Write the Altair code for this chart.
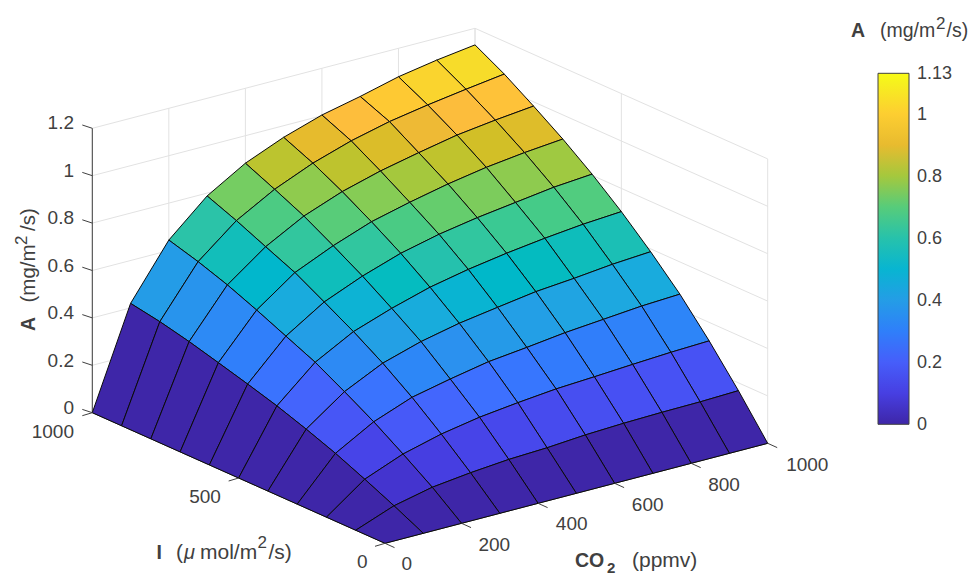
import altair as alt
import pandas as pd

# ---- values ----
I_GRID = [0, 100, 200, 300, 400, 500, 600, 700, 800, 900, 1000]
CO2_GRID = [0, 100, 200, 300, 400, 500, 600, 700, 800, 900, 1000]
A_I0 = [0, 0, 0, 0, 0, 0, 0, 0, 0, 0, 0]
A_I100 = [0, .061, .097, .116, .130, .137, .149, .156, .160, .162, .167]
A_I200 = [0, .118, .182, .224, .253, .272, .288, .297, .307, .316, .322]
A_I300 = [0, .172, .263, .324, .359, .390, .408, .428, .442, .456, .464]
A_I400 = [0, .219, .335, .413, .462, .497, .522, .546, .560, .577, .588]
A_I500 = [0, .262, .404, .491, .547, .594, .627, .653, .674, .691, .702]
A_I600 = [0, .299, .459, .561, .628, .682, .720, .748, .770, .792, .805]
A_I700 = [0, .334, .514, .630, .701, .760, .800, .835, .863, .883, .898]
A_I800 = [0, .368, .565, .684, .771, .832, .877, .912, .944, .965, .982]
A_I900 = [0, .397, .608, .739, .829, .897, .949, .988, 1.016, 1.040, 1.062]
A_I1000 = [0, .419, .644, .788, .884, .951, 1.003, 1.039, 1.080, 1.108, 1.13]
A_ROWS = [A_I0, A_I100, A_I200, A_I300, A_I400, A_I500, A_I600, A_I700, A_I800, A_I900, A_I1000]

Z_TICKS = [0, 0.2, 0.4, 0.6, 0.8, 1, 1.2]
I_TICKS = [0, 500, 1000]
CO2_TICKS = [0, 200, 400, 600, 800, 1000]
CBAR_TICKS = [0, 0.2, 0.4, 0.6, 0.8, 1, 1.13]
A_MAX = 1.13

PARULA = ["#3e26a8", "#4029b4", "#422ebf", "#4332cb", "#4537d5", "#463cde", "#4741e5", "#4747eb",
          "#474df0", "#4752f4", "#4758f8", "#465dfa", "#4563fc", "#4269fe", "#3e6fff", "#3875fe",
          "#327bfc", "#2f81f9", "#2d87f7", "#2d8cf3", "#2b91ef", "#2796eb", "#259be7", "#23a0e5",
          "#20a5e2", "#1ca9df", "#18addb", "#12b1d6", "#08b5d0", "#01b8ca", "#02bac3", "#0bbdbd",
          "#19bfb6", "#24c1ae", "#2cc3a7", "#31c69f", "#37c897", "#3fca8e", "#4acb84", "#57cc7a",
          "#63cd6f", "#72cd64", "#80cc59", "#8fcb4e", "#9dc943", "#abc739", "#b9c431", "#c5c22a",
          "#d1bf27", "#dcbd29", "#e6bb2d", "#efba36", "#f8ba3d", "#febe3c", "#fec338", "#fec933",
          "#fccf30", "#f9d62d", "#f7dc2a", "#f5e327", "#f5e924", "#f6ef20", "#f7f51b", "#f9fb15"]

# ---- oblique view of the box: pixel position of a (I, CO2, A) point ----
X0, Y0 = 385.0, 543.3
DX_I, DY_I = -0.2927, -0.1306
DX_C, DY_C = 0.3827, -0.1000
DY_A = -237.0


def px(i, c):
    return X0 + DX_I * i + DX_C * c


def py(i, c, a=0.0):
    return Y0 + DY_I * i + DY_C * c + DY_A * a


# ---- surface cells, back to front ----
cells = []
for r in range(len(I_GRID) - 2, -1, -1):
    for k in range(len(CO2_GRID) - 2, -1, -1):
        corners = [(r, k), (r, k + 1), (r + 1, k + 1), (r + 1, k), (r, k)]
        cid = f"c{(9 - r):02d}_{(9 - k):02d}"
        for o, (a, b) in enumerate(corners):
            cells.append({"cell": cid, "o": o, "A": A_ROWS[r][k],
                          "x": px(I_GRID[a], CO2_GRID[b]),
                          "y": py(I_GRID[a], CO2_GRID[b], A_ROWS[a][b])})
cells = pd.DataFrame(cells)


# ---- walls, axes, ticks ----
def seg(i1, c1, a1, i2, c2, a2):
    return {"x": px(i1, c1), "y": py(i1, c1, a1), "x2": px(i2, c2), "y2": py(i2, c2, a2)}


grid = []
for z in Z_TICKS:
    grid.append(seg(1000, 0, z, 1000, 1000, z))
    grid.append(seg(1000, 1000, z, 0, 1000, z))
for c in CO2_TICKS:
    grid.append(seg(1000, c, 0, 1000, c, 1.2))
for i in I_TICKS:
    grid.append(seg(i, 1000, 0, i, 1000, 1.2))
grid = pd.DataFrame(grid)

axes = [seg(1000, 0, 0, 1000, 0, 1.2), seg(1000, 0, 0, 0, 0, 0), seg(0, 0, 0, 0, 1000, 0)]
axes = pd.DataFrame(axes)

ticks = []
for z in Z_TICKS:
    x, y = px(1000, 0), py(1000, 0, z)
    ticks.append({"x": x, "y": y, "x2": x - 10, "y2": y - 3.3})
for i in I_TICKS:
    x, y = px(i, 0), py(i, 0)
    ticks.append({"x": x, "y": y, "x2": x - 10, "y2": y + 3.0})
for c in CO2_TICKS:
    x, y = px(0, c), py(0, c)
    ticks.append({"x": x, "y": y, "x2": x + 9.5, "y2": y + 4.3})
CB_L, CB_R, CB_T, CB_B = 878, 909, 73.3, 424.3
for v in CBAR_TICKS[1:-1]:
    y = CB_B - (CB_B - CB_T) * v / A_MAX
    ticks.append({"x": CB_R - 3, "y": y, "x2": CB_R, "y2": y})
ticks = pd.DataFrame(ticks)

# ---- text ----
TICK_COLOR = "#404040"
FONT = "Liberation Sans"
tick_center = pd.DataFrame(
    [{"x": 406.7, "y": 564, "t": "0"}, {"x": 494.3, "y": 545, "t": "200"},
     {"x": 571.7, "y": 524.3, "t": "400"}, {"x": 647.7, "y": 505, "t": "600"},
     {"x": 724, "y": 485, "t": "800"}, {"x": 807.3, "y": 465, "t": "1000"},
     {"x": 362.3, "y": 562.3, "t": "0"}, {"x": 205, "y": 496.7, "t": "500"}])
tick_right = pd.DataFrame(
    [{"x": 74, "y": 408, "t": "0"}, {"x": 74, "y": 360.7, "t": "0.2"},
     {"x": 74, "y": 313, "t": "0.4"}, {"x": 74, "y": 265.7, "t": "0.6"},
     {"x": 74, "y": 218, "t": "0.8"}, {"x": 74, "y": 170.7, "t": "1"},
     {"x": 74, "y": 123, "t": "1.2"}, {"x": 74, "y": 431.7, "t": "1000"}])
cbar_left = pd.DataFrame(
    [{"x": 917, "y": CB_B - (CB_B - CB_T) * v / A_MAX + 1, "t": str(v)} for v in CBAR_TICKS])
cbar_title = pd.DataFrame([{"x": 880, "y": 37, "t": "(mg/m"}, {"x": 946.5, "y": 37, "t": "/s)"}])
label_plain = pd.DataFrame(
    [{"x": 176, "y": 559, "t": "("}, {"x": 200, "y": 559, "t": "mol/m"},
     {"x": 268.5, "y": 559, "t": "/s)"}, {"x": 632, "y": 566.7, "t": "(ppmv)"}])
label_sup = pd.DataFrame(
    [{"x": 936, "y": 29, "t": "2"}, {"x": 257.5, "y": 548, "t": "2"}])
label_bold = pd.DataFrame(
    [{"x": 851, "y": 37, "t": "A"}, {"x": 156.5, "y": 559, "t": "I"},
     {"x": 575, "y": 566.7, "t": "CO"}])
label_sub = pd.DataFrame([{"x": 607, "y": 572.5, "t": "2"}])
label_greek = pd.DataFrame([{"x": 184, "y": 559, "t": "\u03bc"}])
ylabel_plain = pd.DataFrame(
    [{"x": 35, "y": 302.5, "t": "(mg/m"}, {"x": 35, "y": 231, "t": "/s)"}])
ylabel_sup = pd.DataFrame([{"x": 27, "y": 245, "t": "2"}])
ylabel_bold = pd.DataFrame([{"x": 35, "y": 331, "t": "A"}])

# ---- pixel scales of the picture ----
xs = alt.Scale(domain=[8, 969], range=[0, 961], nice=False, zero=False)
ys = alt.Scale(domain=[8, 576], range=[0, 568], nice=False, zero=False)
X = alt.X("x:Q", scale=xs, axis=None)
Y = alt.Y("y:Q", scale=ys, axis=None)


def rules(df, color, width):
    return alt.Chart(df).mark_rule(color=color, strokeWidth=width).encode(
        x=X, y=Y, x2="x2:Q", y2="y2:Q")


def texts(df, **kw):
    base = dict(font=FONT, color=TICK_COLOR)
    base.update(kw)
    return alt.Chart(df).mark_text(**base).encode(x=X, y=Y, text="t:N")


surface = alt.Chart(cells).mark_line(stroke="#0a0a0a", strokeWidth=1, strokeJoin="miter", opacity=1).encode(
    x=X, y=Y,
    detail="cell:N",
    order="o:Q",
    fill=alt.Fill("A:Q",
                  scale=alt.Scale(domain=[0, A_MAX], range=PARULA, nice=False, zero=False),
                  legend=alt.Legend(orient="none", legendX=CB_L - 8, legendY=CB_T - 8, title=None,
                                    direction="vertical", type="gradient",
                                    gradientLength=CB_B - CB_T, gradientThickness=CB_R - CB_L,
                                    gradientStrokeColor=TICK_COLOR, gradientStrokeWidth=1,
                                    values=CBAR_TICKS, labelExpr="''", labelOverlap=False)),
)

chart = alt.layer(
    rules(grid, "#e2e2e2", 1),
    rules(axes, TICK_COLOR, 1),
    surface,
    rules(ticks, TICK_COLOR, 1),
    texts(tick_center, fontSize=19, align="center", baseline="middle"),
    texts(tick_right, fontSize=19, align="right", baseline="middle"),
    texts(cbar_left, fontSize=18, align="left", baseline="middle"),
    texts(cbar_title, fontSize=19.5, align="left", baseline="alphabetic"),
    texts(label_plain, fontSize=21, align="left", baseline="alphabetic"),
    texts(label_sup, fontSize=17, align="left", baseline="alphabetic"),
    texts(label_sub, fontSize=15, align="left", baseline="alphabetic", fontWeight="bold"),
    texts(label_bold, fontSize=19.5, align="left", baseline="alphabetic", fontWeight="bold"),
    texts(label_greek, fontSize=20, align="left", baseline="alphabetic", fontStyle="italic"),
    texts(ylabel_plain, fontSize=20.5, align="left", baseline="alphabetic", angle=270),
    texts(ylabel_sup, fontSize=17, align="left", baseline="alphabetic", angle=270),
    texts(ylabel_bold, fontSize=19.5, align="left", baseline="alphabetic", angle=270, fontWeight="bold"),
).properties(width=961, height=568, padding=0, autosize=alt.AutoSizeParams(type="none")).configure_view(stroke=None)

chart.save("out.html", embed_options={"renderer": "svg", "actions": False})
